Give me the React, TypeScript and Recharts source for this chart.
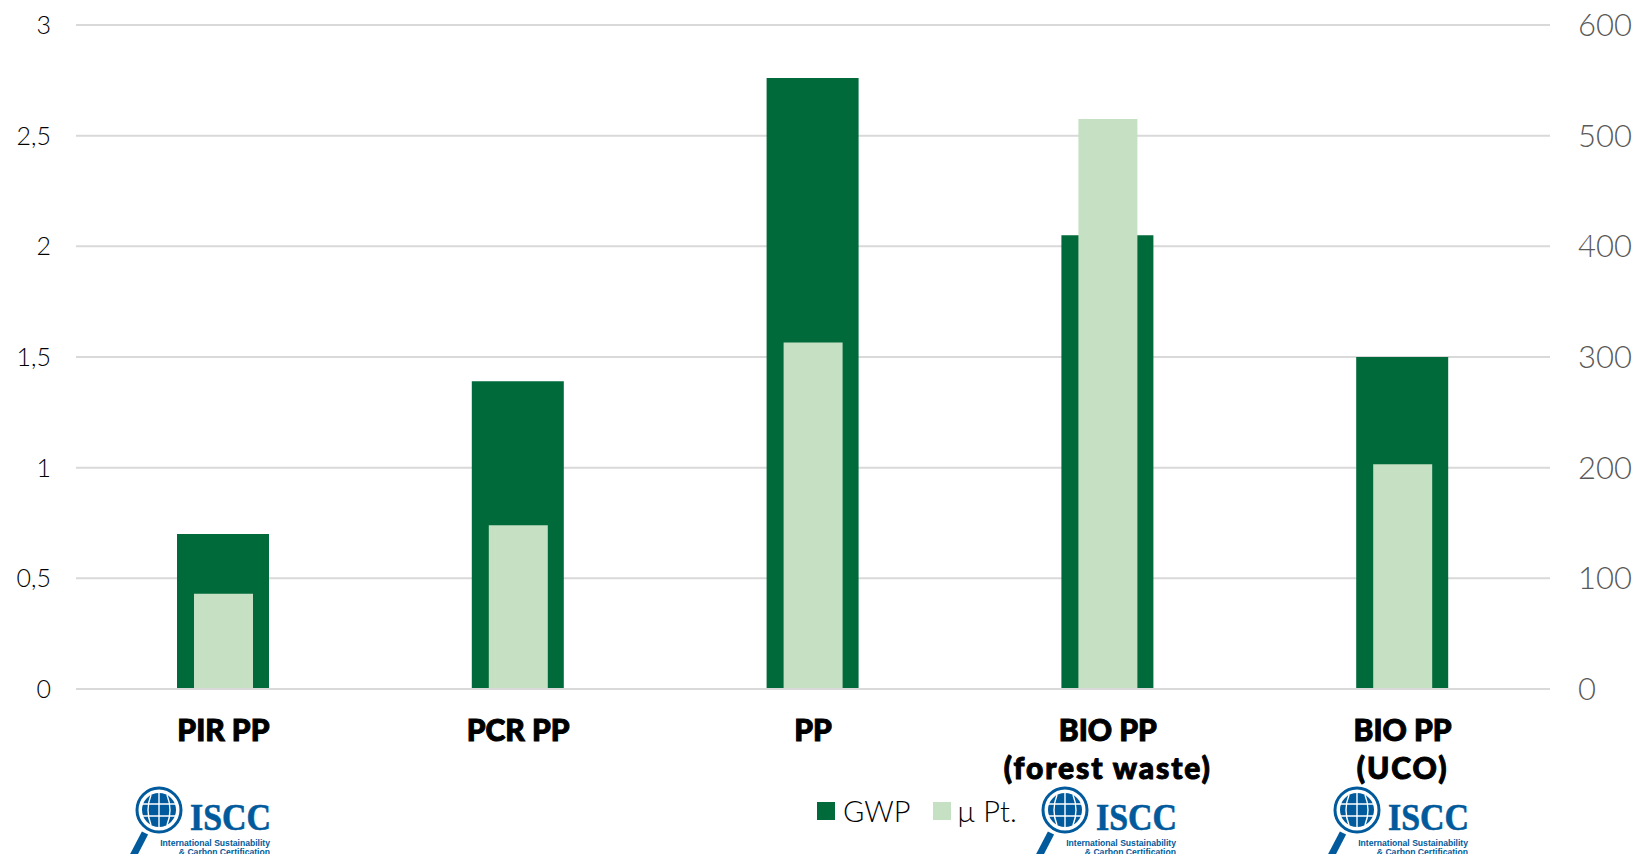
import React from "react";
import { BarChart, Bar, XAxis, YAxis, CartesianGrid, Legend } from "recharts";

const categories = ["PIR PP", "PCR PP", "PP", "BIO PP|(forest waste)", "BIO PP|(UCO)"];
const gwp = [0.7, 1.39, 2.76, 2.05, 1.5];
const microPt = [86, 148, 313, 515, 203];
const leftTicks = [0, 0.5, 1, 1.5, 2, 2.5, 3];
const rightTicks = [0, 100, 200, 300, 400, 500, 600];
const logoSpots = [159, 1065, 1357];

const data = categories.map((name, i) => ({ name, GWP: gwp[i], "µ Pt.": microPt[i] }));
const FONT = "Lato, sans-serif";

function CategoryTick({ x, payload }: any) {
  const lines = String(payload.value).split("|");
  return (
    <text x={x} textAnchor="middle" fontFamily={FONT} fontWeight={900} fontSize={30} fill="#000" stroke="#000" strokeWidth={1}>
      {lines.map((l, i) => (
        <tspan key={l} x={x} y={741 + i * 38} letterSpacing={i > 0 ? 1.9 : 0}>{l}</tspan>
      ))}
    </text>
  );
}

function LegendContent({ payload }: any) {
  return (
    <div style={{ position: "relative", width: 200, height: 0, fontFamily: FONT, fontWeight: 300, fontSize: 29, color: "#000" }}>
      {(payload || []).map((p: any, i: number) => (
        <React.Fragment key={p.value}>
          <span style={{ position: "absolute", left: i * 116, top: 9, width: 18, height: 18, background: p.color }} />
          <span style={{ position: "absolute", left: 26 + i * 114, top: 0, lineHeight: "36px", whiteSpace: "nowrap" }}>{p.value}</span>
        </React.Fragment>
      ))}
    </div>
  );
}

function Logo({ cx }: { cx: number }) {
  const blue = "#005a9c";
  const cy = 810;
  return (
    <g>
      <circle cx={cx} cy={cy} r={22} fill="#fff" stroke={blue} strokeWidth={3} />
      <circle cx={cx} cy={cy} r={17} fill={blue} />
      <path d={`M${cx - 17} ${cy - 6}H${cx + 17}M${cx - 17} ${cy + 6}H${cx + 17}M${cx} ${cy - 17}V${cy + 17}M${cx - 8} ${cy - 15}Q${cx - 14} ${cy} ${cx - 8} ${cy + 15}M${cx + 8} ${cy - 15}Q${cx + 14} ${cy} ${cx + 8} ${cy + 15}`} stroke="#fff" strokeWidth={1.4} fill="none" />
      <line x1={cx - 14} y1={cy + 23} x2={cx - 27} y2={cy + 48} stroke={blue} strokeWidth={7} />
      <text x={cx + 31} y={cy + 20} fontFamily="Liberation Serif, serif" fontWeight={700} fontSize={38} fill={blue} stroke={blue} strokeWidth={0.6} textLength={81} lengthAdjust="spacingAndGlyphs">ISCC</text>
      <text x={cx + 111} y={cy + 36} textAnchor="end" fontFamily="Liberation Sans, sans-serif" fontWeight={700} fontSize={8.6} fill={blue}>International Sustainability</text>
      <text x={cx + 111} y={cy + 45} textAnchor="end" fontFamily="Liberation Sans, sans-serif" fontWeight={700} fontSize={8.6} fill={blue}>&amp; Carbon Certification</text>
    </g>
  );
}

export default function App() {
  return (
    <div style={{ position: "absolute", left: 0, top: 0, width: 1640, height: 854, overflow: "hidden", background: "#fff" }}>
      <BarChart width={1640} height={854} data={data} margin={{ top: 25, right: 0, bottom: 0, left: 0 }} barGap={0}>
        <CartesianGrid horizontal vertical={false} yAxisId="left" stroke="#d9d9d9" strokeWidth={2} syncWithTicks />
        <XAxis xAxisId="a" dataKey="name" interval={0} height={165} axisLine={{ stroke: "#d9d9d9", strokeWidth: 2 }} tickLine={false} tick={<CategoryTick />} />
        <XAxis xAxisId="b" dataKey="name" hide />
        <YAxis yAxisId="left" orientation="left" width={76} domain={[0, 3]} ticks={leftTicks} interval={0} axisLine={false} tickLine={false}
          tickFormatter={(v: number) => String(v).replace(".", ",")}
          tick={{ fontFamily: FONT, fontWeight: 300, fontSize: 25, fill: "#000" }} tickMargin={19} />
        <YAxis yAxisId="right" orientation="right" width={90} domain={[0, 600]} ticks={rightTicks} interval={0} axisLine={false} tickLine={false}
          tick={{ fontFamily: FONT, fontWeight: 300, fontSize: 31, fill: "#595959" }} tickMargin={22} />
        <Legend verticalAlign="top" align="left" wrapperStyle={{ position: "absolute", left: 817, top: 793, width: 200, height: 0 }} content={<LegendContent />} />
        <Bar xAxisId="a" yAxisId="left" dataKey="GWP" fill="#006a3a" barSize={92} isAnimationActive={false} />
        <Bar xAxisId="b" yAxisId="right" dataKey="µ Pt." fill="#c6e0c4" barSize={59} isAnimationActive={false} />
        {logoSpots.map((c) => <Logo key={c} cx={c} />)}
      </BarChart>
    </div>
  );
}
